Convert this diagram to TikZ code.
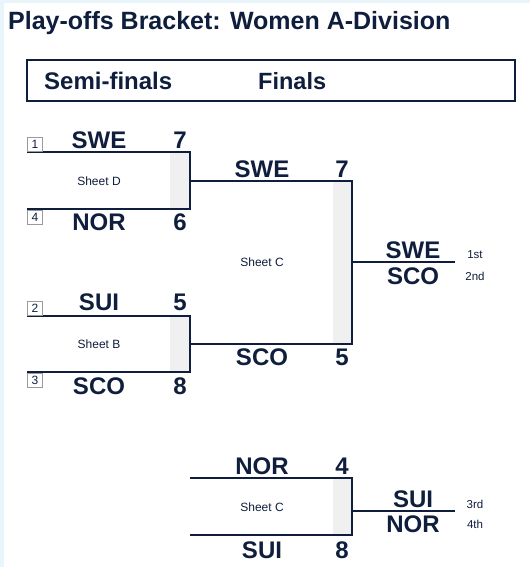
\documentclass[tikz,border=0pt]{standalone}
\usepackage{fontspec}
\setmainfont{Liberation Sans}
\usetikzlibrary{calc}
\definecolor{navy}{HTML}{0F1E3C}
\definecolor{paneshade}{HTML}{F0F0F0}
\definecolor{pageedge}{HTML}{E8F6FB}
\definecolor{seedgray}{HTML}{9A9A9A}

\begin{document}
\begin{tikzpicture}[x=1pt,y=-1pt,
    bracket/.style={navy,line width=2pt},
    team/.style={anchor=base,inner sep=0pt,text=navy,font=\bfseries\fontsize{24}{24}\selectfont},
    sheet/.style={inner sep=0pt,text=navy,font=\fontsize{12}{12}\selectfont},
    seed/.style={draw=seedgray,fill=white,line width=0.8pt,minimum width=15pt,minimum height=14pt,
      inner sep=0pt,text=navy,font=\fontsize{12}{12}\selectfont},
    place/.style={anchor=base,inner sep=0pt,text=navy,font=\fontsize{11.5}{11.5}\selectfont}]
  % page
  \fill[pageedge] (0,0) rectangle (530,567);
  \fill[white] (4,3) rectangle (530,567);
  \useasboundingbox (0,0) rectangle (530,567);
  \node[anchor=base west,inner sep=0pt,text=navy,font=\bfseries\fontsize{25}{25}\selectfont]
    (title) at (8,30) {Play-offs Bracket: Women A-Division};
  % round header
  \draw[navy,line width=2pt] (27,60) rectangle (515,101);
  \node[anchor=base west,inner sep=0pt,text=navy,font=\bfseries\fontsize{24}{24}\selectfont]
    (semis) at (44,90) {Semi-finals};
  \node[anchor=base west,inner sep=0pt,text=navy,font=\bfseries\fontsize{23.5}{23.5}\selectfont]
    (finals) at (258,90) {Finals};

  % match corners
  \coordinate (sf1top) at (27,152);  \coordinate (sf1bot) at (27,209);  \coordinate (sf1out) at (190,181);
  \coordinate (sf2top) at (27,316);  \coordinate (sf2bot) at (27,372);  \coordinate (sf2out) at (190,344);
  \coordinate (finout) at (352,262); \coordinate (champ) at (455,262);
  \coordinate (brtop) at (190,478);  \coordinate (brbot) at (190,535);  \coordinate (brout) at (352,511);
  \coordinate (bronze) at (455,511);

  % hammer columns
  \fill[paneshade] (170,152) rectangle (189,209);
  \fill[paneshade] (170,316) rectangle (189,372);
  \fill[paneshade] (333,181) rectangle (351,344);
  \fill[paneshade] (333,478) rectangle (351,535);

  % bracket lines
  \draw[bracket] (sf1top) -| (sf1out);
  \draw[bracket] (sf1bot) -| (sf1out);
  \draw[bracket] (sf2top) -| (sf2out);
  \draw[bracket] (sf2bot) -| (sf2out);
  \draw[bracket] (sf1out) -| (finout);
  \draw[bracket] (sf2out) -| (finout);
  \draw[bracket] (finout) -- (champ);
  \draw[bracket] (brtop) -| (brout);
  \draw[bracket] (brbot) -| (brout);
  \draw[bracket] (brout) -- (bronze);

  % seeds
  \node[seed] (seed1) at (35,144) {1};
  \node[seed] (seed4) at (35,217) {4};
  \node[seed] (seed2) at (35,308) {2};
  \node[seed] (seed3) at (35,380) {3};

  % semi-final 1
  \node[team] (sf1a) at (99,148) {SWE};  \node[team] (sf1as) at (180,148) {7};
  \node[team] (sf1b) at (99,230) {NOR};  \node[team] (sf1bs) at (180,230) {6};
  \node[sheet] (sf1sheet) at (99,181) {Sheet D};
  % semi-final 2
  \node[team] (sf2a) at (99,310) {SUI};  \node[team] (sf2as) at (180,310) {5};
  \node[team] (sf2b) at (99,394) {SCO};  \node[team] (sf2bs) at (180,394) {8};
  \node[sheet] (sf2sheet) at (99,344) {Sheet B};
  % final
  \node[team] (fa) at (262,177) {SWE};  \node[team] (fas) at (342,177) {7};
  \node[team] (fb) at (262,365) {SCO};  \node[team] (fbs) at (342,365) {5};
  \node[sheet] (fsheet) at (262,262) {Sheet C};
  \node[team] (gold) at (413,258) {SWE};  \node[place] (first) at (475,258) {1st};
  \node[team] (silver) at (413,284) {SCO}; \node[place] (second) at (475,280) {2nd};
  % bronze game
  \node[team] (ba) at (262,474) {NOR};  \node[team] (bas) at (342,474) {4};
  \node[team] (bb) at (262,558) {SUI};  \node[team] (bbs) at (342,558) {8};
  \node[sheet] (bsheet) at (262,507) {Sheet C};
  \node[team] (third) at (413,507) {SUI};  \node[place] (thirdlbl) at (475,508) {3rd};
  \node[team] (fourth) at (413,532) {NOR}; \node[place] (fourthlbl) at (475,528) {4th};
\end{tikzpicture}
\end{document}
